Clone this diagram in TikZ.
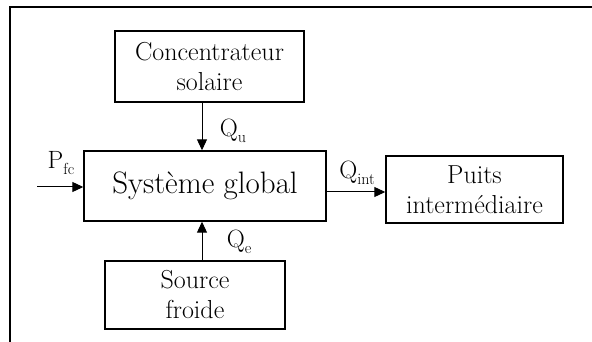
\documentclass[tikz,border=0pt]{standalone}
\usetikzlibrary{arrows.meta}
\newcommand\lowtext[1]{\raisebox{-0.22em}{\fontsize{16}{16}\selectfont #1}}
\begin{document}
\begin{tikzpicture}[x=1pt,y=-1pt,unit/.style={draw,line width=1.4pt,inner sep=0pt,align=center,font=\fontsize{26}{30}\selectfont},flux/.style={line width=1pt,-{Triangle[length=11pt,width=10pt]}},tag/.style={inner sep=0pt,font=\fontsize{25}{26}\selectfont}]
\useasboundingbox (0,0) rectangle (592,342);
\draw[line width=2.2pt] (10,342) -- (10,7) -- (592,7);
\node[unit,minimum width=189pt,minimum height=71pt] (conc) at (209.5,66.5) {Concentrateur\\solaire};
\node[unit,minimum width=242pt,minimum height=70pt,font=\fontsize{31}{34}\selectfont] (sys) at (205,186) {Système global};
\node[unit,minimum width=177pt,minimum height=67pt] (puits) at (474.5,189.5) {Puits\\intermédiaire};
\node[unit,minimum width=180pt,minimum height=68pt] (source) at (195,295) {Source\\froide};
\coordinate (axis) at (202,0);
\coordinate (qrow) at (0,192);
\coordinate (pin) at (37,187);
\draw[flux] (conc.south -| axis) -- (sys.north -| axis);
\draw[flux] (source.north -| axis) -- (sys.south -| axis);
\draw[flux] (pin) -- (sys.west |- pin);
\draw[flux] (sys.east |- qrow) -- (puits.west |- qrow);
\node[tag] (qu) at (233,131) {Q\lowtext{u}};
\node[tag] (qe) at (239,242) {Q\lowtext{e}};
\node[tag] (pfc) at (61,163) {P\lowtext{fc}};
\node[tag] (qint) at (357,173) {Q\lowtext{int}};
\end{tikzpicture}
\end{document}
